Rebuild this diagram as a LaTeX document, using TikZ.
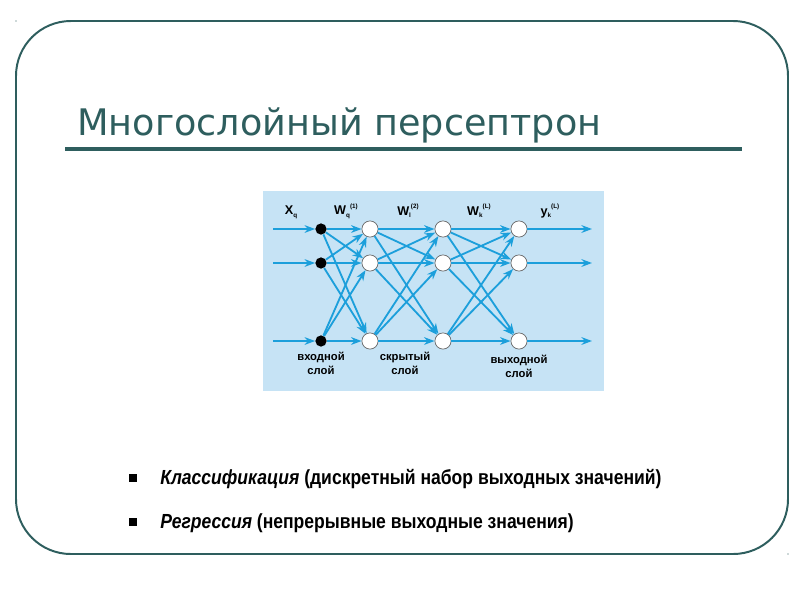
\documentclass[tikz,border=0pt]{standalone}
\usepackage{fontspec}
\usepackage{graphicx}
\setmainfont{Liberation Sans}
\newfontfamily\titlefont{DejaVu Sans}
\usetikzlibrary{arrows.meta}
\usetikzlibrary{positioning}

\definecolor{frame}{HTML}{2E5E5E}
\definecolor{panel}{HTML}{C6E3F5}
\definecolor{wire}{HTML}{1C9FDB}

\newcommand{\wlab}[3]{\textbf{#1}\raisebox{-2pt}{\fontsize{4.5}{5}\selectfont\bfseries #2}\raisebox{4.5pt}{\fontsize{4.5}{5}\selectfont\bfseries #3}}

\tikzset{
    inpnode/.style={circle,fill=black,inner sep=0pt,minimum size=8pt},
    neuron/.style={circle,draw=black!60,fill=white,inner sep=0pt,minimum size=11.5pt,line width=0.5pt},
    link/.style={wire,line width=1.3pt,-{Stealth[length=7.5pt,width=5.5pt]}},
    toplab/.style={font=\fontsize{9}{10}\selectfont},
    laylab/.style={font=\fontsize{8}{10}\selectfont\bfseries,align=center,anchor=north},
    bullet/.style={fill=black,inner sep=0pt,minimum size=5pt},
    itemtext/.style={anchor=base west,inner sep=0pt,font=\fontsize{14.5}{17}\selectfont\bfseries}
}

\begin{document}
\begin{tikzpicture}[x=0.025cm,y=-0.025cm]
    \useasboundingbox (0,0) rectangle (800,600);
    \fill[white] (0,0) rectangle (800,600);
    \draw[frame,line width=1.4pt,rounded corners=39pt] (16,21) rectangle (788,554);
    \fill[frame] (16,21) circle (0.5pt);
    \fill[frame] (788,554) circle (0.5pt);

    \node[anchor=base west,inner sep=0pt,text=frame,
        font=\titlefont\fontsize{26}{30}\selectfont] (title) at (77,135) {Многослойный персептрон};
    \draw[frame,line width=2.2pt] (65,149) -- (742,149);

    \fill[panel] (263,191) rectangle (604,391);

    \foreach \r/\y in {1/229,2/263,3/341} {
        \coordinate (s\r) at (273,\y);
        \coordinate (e\r) at (592,\y);
        \node[inpnode] (i\r) at (321,\y) {};
        \node[neuron] (h\r) at (370,\y) {};
        \node[neuron] (g\r) at (443,\y) {};
        \node[neuron] (o\r) at (519,\y) {};
    }
    \foreach \r in {1,2,3} {
        \draw[link] (s\r) -- (i\r);
        \draw[link] (o\r) -- (e\r);
        \foreach \c in {1,2,3} {
            \draw[link] (i\r) -- (h\c);
            \draw[link] (h\r) -- (g\c);
            \draw[link] (g\r) -- (o\c);
        }
    }

    \node[toplab] (xq) at (291,212) {\wlab{X}{q}{}};
    \node[toplab] (w1) at (346,211) {\wlab{W}{q}{(1)}};
    \node[toplab] (w2) at (408,211) {\wlab{W}{l}{(2)}};
    \node[toplab] (w3) at (479,211) {\wlab{W}{k}{(L)}};
    \node[toplab] (yk) at (550,211) {\wlab{y}{k}{(L)}};

    \node[laylab] (inlab) at (321,347) {входной\\слой};
    \node[laylab] (hidlab) at (405,347) {скрытый\\слой};
    \node[laylab] (outlab) at (519,350) {выходной\\слой};

    \node[bullet] (b1) at (133,478) {};
    \node[bullet] (b2) at (133,522) {};
    \node[itemtext] (t1) at (160,484)
        {\scalebox{0.86}[1]{\textit{Классификация} (дискретный набор выходных значений)}};
    \node[itemtext] (t2) at (160,528)
        {\scalebox{0.86}[1]{\textit{Регрессия} (непрерывные выходные значения)}};
\end{tikzpicture}
\end{document}
